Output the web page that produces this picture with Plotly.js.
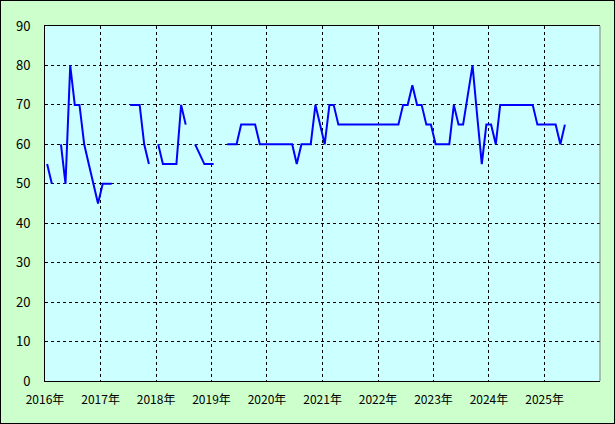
<!DOCTYPE html>
<html>
<head>
<meta charset="utf-8">
<script src="https://cdn.plot.ly/plotly-3.0.1.min.js"></script>
<style>
html,body{margin:0;padding:0;background:#ccffcc;}
#wrap{position:relative;width:615px;height:424px;}
#chart{width:615px;height:424px;}
#frame{position:absolute;left:0;top:0;width:615px;height:424px;box-sizing:border-box;border:1px solid #000;pointer-events:none;}
</style>
</head>
<body>
<div id="wrap"><div id="chart"></div><div id="frame"></div></div>
<script>
// Monthly values (Jan..Dec), null = no data
const years = [2016, 2017, 2018, 2019, 2020, 2021, 2022, 2023, 2024, 2025];
const v2016 = [55, 50, null, 60, 50, 80, 70, 70, 60, 55, 50, 45];
const v2017 = [50, 50, 50, null, null, null, 70, 70, 70, 60, 55, null];
const v2018 = [60, 55, 55, 55, 55, 70, 65, null, 60, 57.5, 55, 55];
const v2019 = [55, null, null, 60, 60, 60, 65, 65, 65, 65, 60, 60];
const v2020 = [60, 60, 60, 60, 60, 60, 55, 60, 60, 60, 70, 65];
const v2021 = [60, 70, 70, 65, 65, 65, 65, 65, 65, 65, 65, 65];
const v2022 = [65, 65, 65, 65, 65, 70, 70, 75, 70, 70, 65, 65];
const v2023 = [60, 60, 60, 60, 70, 65, 65, 72.5, 80, 67.5, 55, 65];
const v2024 = [65, 60, 70, 70, 70, 70, 70, 70, 70, 70, 65, 65];
const v2025 = [65, 65, 65, 60, 65];
const yearValues = [v2016, v2017, v2018, v2019, v2020, v2021, v2022, v2023, v2024, v2025];
const tickYears = [2016, 2017, 2018, 2019, 2020, 2021, 2022, 2023, 2024, 2025];
const tickLabels = tickYears.map(y => y + '年');

const xs = [], ys = [];
years.forEach((yr, i) => {
  yearValues[i].forEach((v, m) => {
    const mm = String(m + 1).padStart(2, '0');
    xs.push(yr + '-' + mm + '-15');
    ys.push(v);
  });
});

const trace = {
  x: xs, y: ys, type: 'scatter', mode: 'lines',
  line: {color: '#0000ff', width: 2},
  connectgaps: false, hoverinfo: 'skip'
};

const font = {family: '"Noto Sans CJK JP", "DejaVu Sans", sans-serif', size: 12, color: '#000'};

const layout = {
  width: 615, height: 424,
  margin: {l: 45, r: 15, t: 26, b: 43, pad: 0},
  paper_bgcolor: '#ccffcc',
  plot_bgcolor: '#ccffff',
  showlegend: false,
  font: font,
  xaxis: {
    type: 'date',
    range: ['2016-01-01', '2026-01-01'],
    tickvals: tickYears.map(y => y + '-01-01'),
    ticktext: tickLabels,
    tickfont: {family: font.family, size: 12, color: '#000'},
    ticks: '', ticklabelstandoff: 8,
    showgrid: true, gridcolor: '#000', gridwidth: 1, griddash: '3px,3px',
    showline: true, linecolor: '#000', linewidth: 1, mirror: true,
    zeroline: false, fixedrange: true
  },
  yaxis: {
    range: [0, 90],
    dtick: 10, tick0: 0,
    tickfont: {family: font.family, size: 13, color: '#000'},
    ticks: '', ticklabelstandoff: 11,
    showgrid: true, gridcolor: '#000', gridwidth: 1, griddash: '3px,3px',
    showline: true, linecolor: '#000', linewidth: 1,
    zeroline: false, fixedrange: true
  },
  shapes: [
    {type: 'line', xref: 'paper', yref: 'paper', x0: 1, x1: 1, y0: 0, y1: 1,
     line: {color: '#808080', width: 1}}
  ]
};

Plotly.newPlot('chart', [trace], layout, {displayModeBar: false, staticPlot: true});
</script>
</body>
</html>
